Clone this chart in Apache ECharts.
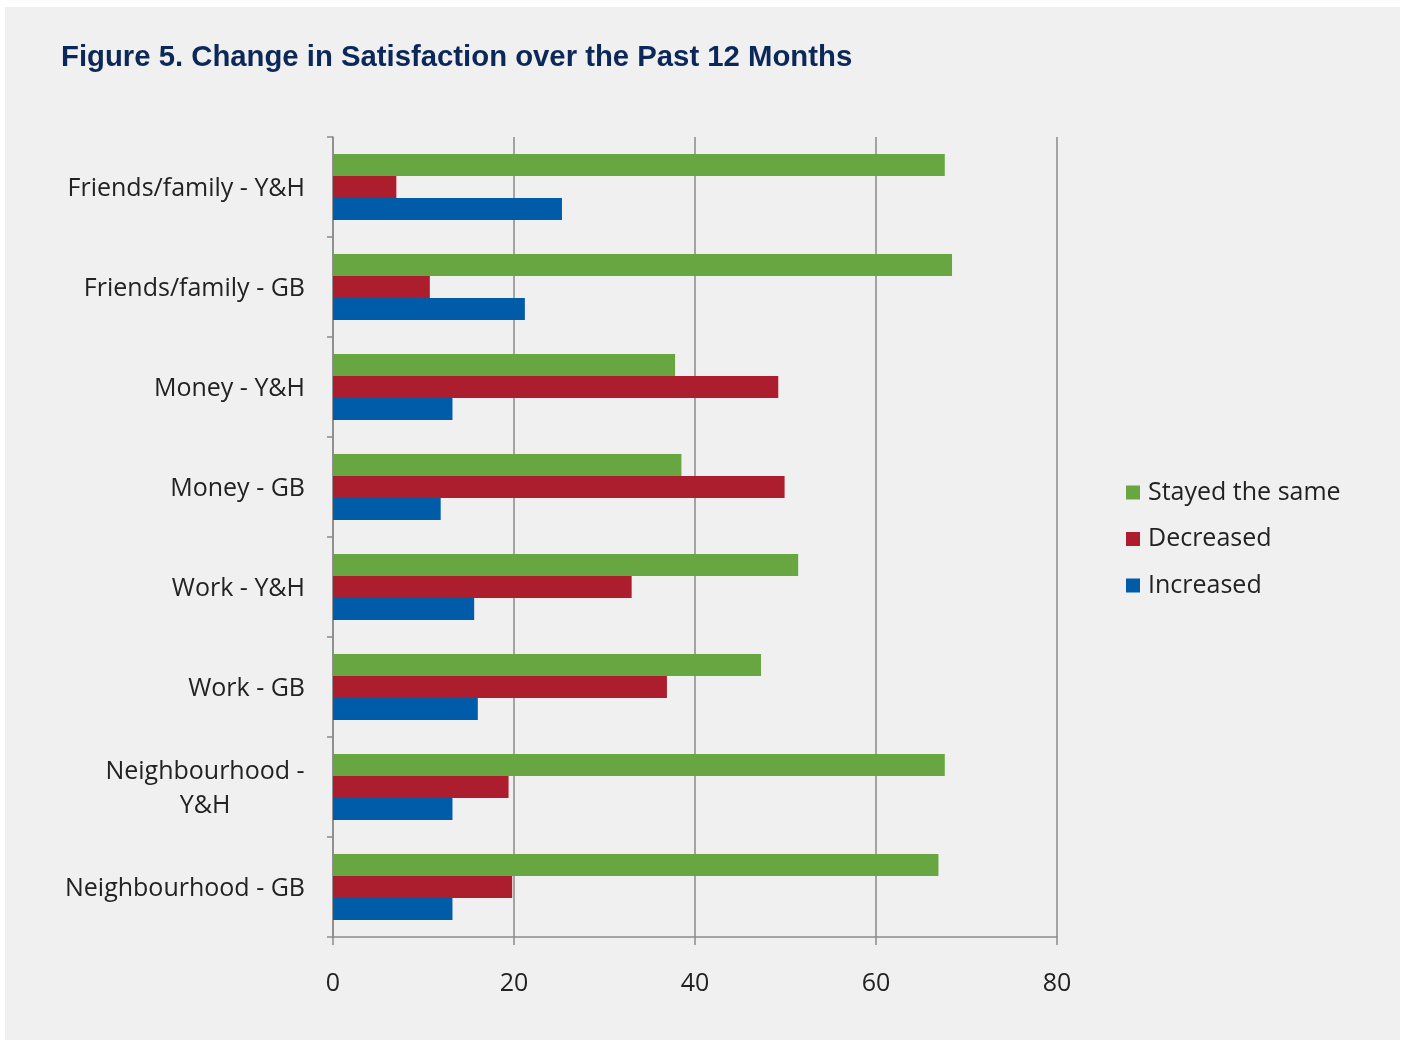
<!DOCTYPE html>
<html><head><meta charset="utf-8">
<script src="https://cdn.jsdelivr.net/npm/echarts@6/dist/echarts.min.js"></script>
<style>html,body{margin:0;padding:0;background:#fff;}#c{width:1405px;height:1043px;}</style>
</head><body><div id="c"></div>
<script>
const titleText = 'Figure 5. Change in Satisfaction over the Past 12 Months';
const categories = ['Friends/family - Y&H','Friends/family - GB','Money - Y&H','Money - GB','Work - Y&H','Work - GB','Neighbourhood - Y&H','Neighbourhood - GB'];
const tickLabels = ['Friends/family - Y&H','Friends/family - GB','Money - Y&H','Money - GB','Work - Y&H','Work - GB','Neighbourhood -\nY&H','Neighbourhood - GB'];
const seriesNames = ['Stayed the same','Decreased','Increased'];
const stayedSame = [67.6, 68.4, 37.8, 38.5, 51.4, 47.3, 67.6, 66.9];
const decreased  = [7.0, 10.7, 49.2, 49.9, 33.0, 36.9, 19.4, 19.8];
const increased  = [25.3, 21.2, 13.2, 11.9, 15.6, 16.0, 13.2, 13.2];
const xTicks = [0, 20, 40, 60, 80];
const colors = ['#67a640', '#ac1d2e', '#005ca8'];
const values = [stayedSame, decreased, increased];

const FONT = 'Open Sans';
const FS = 25;
const chart = echarts.init(document.getElementById('c'), null, {renderer:'canvas'});
chart.setOption({
  backgroundColor: '#ffffff',
  animation: false,
  graphic: [{type:'rect', shape:{x:5,y:7,width:1395,height:1033}, style:{fill:'#f0f0f0'}, z:-10, silent:true}],
  title: {text: titleText, left: 56, top: 38, textStyle:{fontFamily:'Liberation Sans, Arial', fontWeight:'bold', fontSize:29.3, color:'#0b2858'}},
  legend: {
    orient:'vertical', left: 1126, top: 480, padding: 0, itemWidth: 14, itemHeight: 14, itemGap: 21.5, icon:'rect',
    textStyle:{fontFamily:FONT, fontSize:FS, color:'#222', padding:[0,0,0,3]},
    data: seriesNames
  },
  grid: {left:333, top:137, right:348, bottom:106, containLabel:false},
  xAxis: {
    type:'value', min: xTicks[0], max: xTicks[xTicks.length-1], interval: 20,
    axisLine:{show:true, lineStyle:{color:'#8a8a8a', width:1.5}},
    axisTick:{show:true, length:8, inside:false, lineStyle:{color:'#8a8a8a', width:1.5}},
    axisLabel:{margin:34, fontFamily:FONT, fontSize:FS, color:'#222'},
    splitLine:{show:true, lineStyle:{color:'#8a8a8a', width:1.5}}
  },
  yAxis: {
    type:'category', data: categories, inverse:true,
    axisLine:{show:true, lineStyle:{color:'#8a8a8a', width:1.5}},
    axisTick:{show:true, length:6, lineStyle:{color:'#8a8a8a', width:1.5}},
    axisLabel:{margin:28, fontFamily:FONT, fontSize:FS, color:'#222', lineHeight:34, padding:[3,0,0,0],
      formatter: function(v, i){
        const t = tickLabels[i];
        if (t.indexOf('\n') >= 0) { return t.split('\n').map(s => '{c|' + s + '}').join('\n'); }
        return t;
      },
      rich:{c:{width:200, align:'center', fontFamily:FONT, fontSize:FS, color:'#222', lineHeight:34}}
    },
    splitLine:{show:false}
  },
  series: seriesNames.map((n,i)=>({
    name:n, type:'bar', data: values[i], barGap:'0%', barCategoryGap:'34%',
    itemStyle:{color:colors[i]}
  }))
});
</script></body></html>
